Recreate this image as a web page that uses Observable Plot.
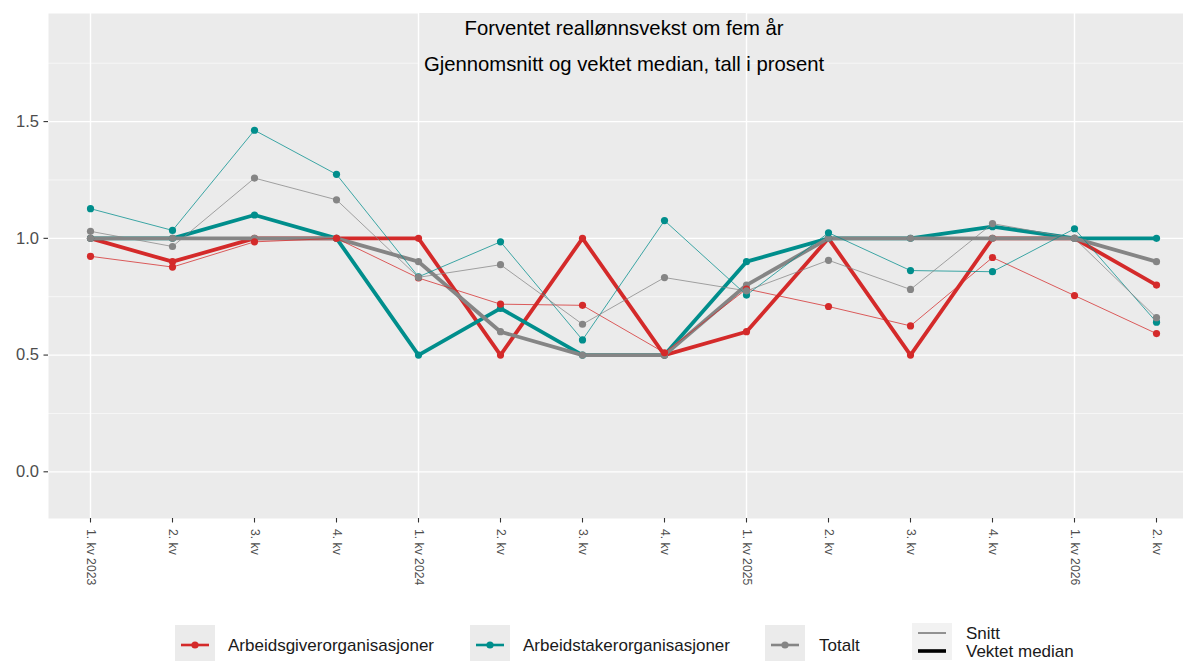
<!DOCTYPE html>
<html>
<head>
<meta charset="utf-8">
<script src="https://cdn.jsdelivr.net/npm/d3@7"></script>
<script src="https://cdn.jsdelivr.net/npm/@observablehq/plot@0.6"></script>
<style>
  body { margin: 0; background: #fff; font-family: "Liberation Sans", Arial, sans-serif; }
  #wrap { position: relative; width: 1183px; height: 661px; }
  #legend { position: absolute; left: 0; top: 600px; width: 1183px; height: 61px; }
  .key { position: absolute; top: 25px; width: 40px; height: 37px; background: #EBEBEB; }
  .ltxt { position: absolute; font-size: 17px; color: #1a1a1a; line-height: 1; white-space: nowrap; }
</style>
</head>
<body>
<div id="wrap">
  <div id="chart"></div>
  <div id="legend"></div>
</div>
<script>
// ---- data ----
const quarters = ["2023K1","2023K2","2023K3","2023K4","2024K1","2024K2","2024K3","2024K4","2025K1","2025K2","2025K3","2025K4","2026K1","2026K2"];
const tickLabels = ["1. kv 2023","2. kv","3. kv","4. kv","1. kv 2024","2. kv","3. kv","4. kv","1. kv 2025","2. kv","3. kv","4. kv","1. kv 2026","2. kv"];
const yearStarts = ["2023K1","2024K1","2025K1","2026K1"];
const groups = ["Arbeidsgiverorganisasjoner","Arbeidstakerorganisasjoner","Totalt"];
const groupColors = ["#D42A2A","#008E8C","#858585"];
const measures = ["Snitt","Vektet median"];

const arbgiverSnitt  = [0.923,0.877,0.985,1.0,0.83,0.718,0.713,0.51,0.783,0.708,0.625,0.918,0.755,0.592];
const arbgiverMedian = [1.0,0.9,1.0,1.0,1.0,0.5,1.0,0.5,0.6,1.0,0.5,1.0,1.0,0.8];
const arbtakerSnitt  = [1.127,1.034,1.463,1.274,0.835,0.985,0.565,1.076,0.757,1.024,0.862,0.857,1.041,0.641];
const arbtakerMedian = [1.0,1.0,1.1,1.0,0.5,0.7,0.5,0.5,0.9,1.0,1.0,1.05,1.0,1.0];
const totaltSnitt    = [1.03,0.965,1.258,1.165,0.833,0.887,0.632,0.832,0.775,0.906,0.781,1.063,1.0,0.66];
const totaltMedian   = [1.0,1.0,1.0,1.0,0.9,0.6,0.5,0.5,0.8,1.0,1.0,1.0,1.0,0.9];

const yMajor = [0, 0.5, 1.0, 1.5];
const yMinor = [0.25, 0.75, 1.25, 1.75];
const titleText = "Forventet reallønnsvekst om fem år";
const subtitleText = "Gjennomsnitt og vektet median, tall i prosent";
const titleSpan = ["2024K1", "2025K1"];

// ---- build table ----
const seriesDef = [
  [groups[0], measures[0], arbgiverSnitt],
  [groups[0], measures[1], arbgiverMedian],
  [groups[1], measures[0], arbtakerSnitt],
  [groups[1], measures[1], arbtakerMedian],
  [groups[2], measures[0], totaltSnitt],
  [groups[2], measures[1], totaltMedian]
];
const rows = [];
for (const [g, m, vals] of seriesDef) {
  vals.forEach((v, i) => rows.push({q: quarters[i], v, g, m}));
}
const thin = rows.filter(d => d.m === "Snitt");
const thick = rows.filter(d => d.m === "Vektet median");
const labelOf = new Map(quarters.map((q, i) => [q, tickLabels[i]]));

const W = 1183, H = 600;
const chart = Plot.plot({
  width: W,
  height: H,
  marginLeft: 48,
  marginRight: 0,
  marginTop: 13,
  marginBottom: 82,
  style: { fontFamily: "Liberation Sans, Arial, sans-serif", background: "transparent" },
  x: { type: "point", domain: quarters, range: [89, 1156], padding: 0 },
  y: { domain: [-0.2, 1.963] },
  color: { domain: groups, range: groupColors },
  marks: [
    Plot.frame({ fill: "#EBEBEB", stroke: null }),
    Plot.ruleY(yMinor, { stroke: "white", strokeWidth: 0.6 }),
    Plot.rect([titleSpan], { x1: d => d[0], x2: d => d[1], y1: 1.62, y2: 1.963, fill: "#EBEBEB" }),
    Plot.ruleY(yMajor, { stroke: "white", strokeWidth: 1.3 }),
    Plot.ruleX(yearStarts, { stroke: "white", strokeWidth: 1.4 }),
    Plot.line(thick, { x: "q", y: "v", z: "g", stroke: "g", strokeWidth: 3.8, strokeLinejoin: "round" }),
    Plot.dot(thick, { x: "q", y: "v", fill: "g", r: 3.6 }),
    Plot.line(thin, { x: "q", y: "v", z: "g", stroke: "g", strokeWidth: 1, strokeOpacity: 0.75 }),
    Plot.dot(thin, { x: "q", y: "v", fill: "g", r: 3.6 }),
    Plot.axisY(yMajor, { tickSize: 4.5, tickPadding: 5, tickFormat: d3.format(".1f"), fontSize: 16.5, stroke: "#333", color: "#4D4D4D", strokeWidth: 1.1, label: null }),
    Plot.axisX(quarters, { tickSize: 4.5, tickPadding: 6, tickRotate: 90, tickFormat: d => labelOf.get(d), fontSize: 12.2, color: "#4D4D4D", stroke: "#333", strokeWidth: 1.1, label: null }),
    Plot.text([titleText], { frameAnchor: "top", text: d => d, dx: 8, dy: 7, fontSize: 20.3, fill: "#000" }),
    Plot.text([subtitleText], { frameAnchor: "top", text: d => d, dx: 8, dy: 43, fontSize: 20.3, fill: "#000" })
  ]
});
document.getElementById("chart").appendChild(chart);

// ---- legend ----
const legend = document.getElementById("legend");
const keyX = [175, 470, 765];
const txtX = [228, 523, 819];
groups.forEach((g, i) => {
  const k = document.createElement("div");
  k.className = "key";
  k.style.left = keyX[i] + "px";
  k.innerHTML = `<svg width="40" height="37"><line x1="6" x2="34" y1="20" y2="20" stroke="${groupColors[i]}" stroke-width="2.6"/><circle cx="20" cy="20" r="3.6" fill="${groupColors[i]}"/></svg>`;
  legend.appendChild(k);
  const t = document.createElement("div");
  t.className = "ltxt";
  t.style.left = txtX[i] + "px";
  t.style.top = "37px";
  t.textContent = g;
  legend.appendChild(t);
});
const k2 = document.createElement("div");
k2.className = "key";
k2.style.left = "912px";
k2.style.top = "23px";
k2.style.background = "#F2F2F2";
k2.innerHTML = `<svg width="40" height="37"><line x1="6" x2="34" y1="10" y2="10" stroke="#000" stroke-width="0.8"/><line x1="6" x2="34" y1="28" y2="28" stroke="#000" stroke-width="3.6"/></svg>`;
legend.appendChild(k2);
measures.forEach((m, i) => {
  const t = document.createElement("div");
  t.className = "ltxt";
  t.style.left = "966px";
  t.style.top = (i === 0 ? 25 : 43) + "px";
  t.textContent = m;
  legend.appendChild(t);
});
</script>
</body>
</html>
